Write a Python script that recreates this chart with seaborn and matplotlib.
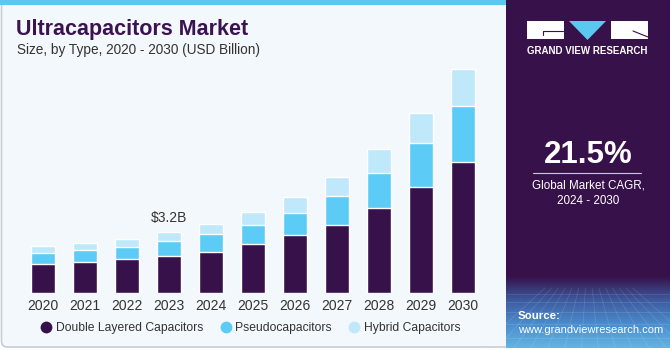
import numpy as np
import pandas as pd
import matplotlib
matplotlib.use("Agg")
import matplotlib.pyplot as plt
import seaborn as sns
from matplotlib.patches import FancyBboxPatch, Rectangle, Polygon
from matplotlib.lines import Line2D

# values (USD Billion)
years = ['2020', '2021', '2022', '2023', '2024', '2025', '2026', '2027', '2028', '2029', '2030']
double_layered = [1.53, 1.65, 1.78, 1.93, 2.18, 2.57, 3.04, 3.60, 4.47, 5.57, 6.91]
pseudo = [0.60, 0.62, 0.66, 0.81, 0.92, 1.00, 1.19, 1.53, 1.88, 2.35, 2.95]
hybrid = [0.37, 0.35, 0.41, 0.46, 0.53, 0.69, 0.84, 1.00, 1.25, 1.55, 1.93]
series_names = ['Double Layered Capacitors', 'Pseudocapacitors', 'Hybrid Capacitors']

DARK = '#37114a'
BLUE = '#5ccbf6'
LIGHT = '#bfe9fa'
PANEL_BG = '#f3f8fc'
TEXT = '#333333'

df = pd.DataFrame({'year': years, 'dl': double_layered, 'ps': pseudo, 'hy': hybrid})
df['lvl2'] = df['dl'] + df['ps']
df['total'] = df['lvl2'] + df['hy']

sns.set_style('white')
plt.rcParams['font.family'] = ['Liberation Sans', 'DejaVu Sans']

W, H = 671, 350
fig = plt.figure(figsize=(W / 100, H / 100), dpi=100)
fig.patch.set_facecolor('white')

# background layer in pixel coordinates
bg = fig.add_axes([0, 0, 1, 1])
bg.axis('off')

bg.add_patch(FancyBboxPatch((1.5, 0), 520, 347, boxstyle='round,pad=0,rounding_size=6',
                            facecolor=PANEL_BG, edgecolor='#c9ccd0', lw=1.2))
bg.add_patch(Rectangle((0, 0), 506, 5, facecolor='#5bc8f0', edgecolor='none'))

# right panel
bg.add_patch(FancyBboxPatch((506, -10), 164, 358, boxstyle='round,pad=0,rounding_size=8',
                            facecolor=DARK, edgecolor='none'))
grad = np.linspace(0, 1, 100)[:, None]
cmap = matplotlib.colors.LinearSegmentedColormap.from_list('g', [DARK, '#3d5a9e', '#4a8ccc', '#63b4e2'])
bg.imshow(grad, extent=(506, 670, 348, 276), cmap=cmap, aspect='auto', zorder=2, origin='upper')
for gx in np.linspace(480, 700, 14):
    bg.plot([588 + (gx - 588) * 0.4, gx], [288, 348], color='white', alpha=0.12, lw=0.6, zorder=3)
for gy in [294, 302, 312, 324, 338]:
    bg.plot([506, 670], [gy, gy], color='white', alpha=0.12, lw=0.6, zorder=3)
bg.set_xlim(0, W)
bg.set_ylim(H, 0)

# logo
bg.add_patch(Rectangle((527, 21), 37, 18, facecolor='white', edgecolor='none', zorder=4))
bg.add_patch(Polygon([(569, 21), (606, 21), (587.5, 40)], facecolor='#5bc8f0', edgecolor='none', zorder=4))
bg.add_patch(Rectangle((611, 21), 37, 18, facecolor='white', edgecolor='none', zorder=4))
bg.plot([543, 543, 563], [35, 31, 31], color=DARK, lw=0.8, zorder=5)
bg.plot([633, 648], [31, 37], color=DARK, lw=0.8, zorder=5)
bg.text(587.5, 51, 'GRAND VIEW RESEARCH', color='white', fontsize=7, fontweight='bold',
        ha='center', va='center', zorder=5)

bg.text(588, 155, '21.5%', color='white', fontsize=22.5, fontweight='bold', ha='center', va='center', zorder=5)
bg.plot([533, 641], [173, 173], color='#cfc8d8', lw=0.8, zorder=5)
bg.text(588, 186, 'Global Market CAGR,', color='white', fontsize=8.4, ha='center', va='center', zorder=5)
bg.text(588, 201, '2024 - 2030', color='white', fontsize=8.4, ha='center', va='center', zorder=5)
bg.text(518, 316, 'Source:', color='white', fontsize=8.2, fontweight='bold', ha='left', va='center', zorder=5)
bg.text(518, 330, 'www.grandviewresearch.com', color='white', fontsize=8.0, ha='left', va='center', zorder=5)

# titles
bg.text(16, 29, 'Ultracapacitors Market', color='#3b1350', fontsize=15.5, fontweight='heavy',
        ha='left', va='center')
bg.text(17, 50, 'Size, by Type, 2020 - 2030 (USD Billion)', color=TEXT, fontsize=9.8,
        ha='left', va='center')

# chart
ax = fig.add_axes([22 / W, (H - 293) / H, 462 / W, (293 - 60) / H])
ax.set_facecolor('none')
sns.barplot(data=df, x='year', y='total', color=LIGHT, width=0.57, saturation=1, ax=ax)
sns.barplot(data=df, x='year', y='lvl2', color=BLUE, width=0.57, saturation=1, ax=ax)
sns.barplot(data=df, x='year', y='dl', color=DARK, width=0.57, saturation=1, ax=ax)
ax.set_xlim(-0.5, len(years) - 0.5)
ax.set_ylim(0, 12.28)
ax.set_xlabel('')
ax.set_ylabel('')
ax.set_yticks([])
ax.tick_params(axis='x', length=0, pad=4, labelsize=10, labelcolor=TEXT)
sns.despine(ax=ax, left=True, top=True, right=True, bottom=True)

i23 = years.index('2023')
ax.annotate(f"${df['total'][i23]:.1f}B", (i23, df['total'][i23]), xytext=(0, 10),
            textcoords='offset points', ha='center', va='center', fontsize=10, color=TEXT)

handles = [Line2D([], [], marker='o', ls='none', markersize=8.5, markerfacecolor=c, markeredgecolor='none')
           for c in [DARK, BLUE, LIGHT]]
fig.legend(handles, series_names, loc='center left', bbox_to_anchor=(41 / W, (H - 328) / H),
           ncol=3, frameon=False, fontsize=8.7, handletextpad=0.35, columnspacing=1.4,
           labelcolor=TEXT, handlelength=0.9, borderaxespad=0, borderpad=0)

fig.savefig('out.png', dpi=100)
